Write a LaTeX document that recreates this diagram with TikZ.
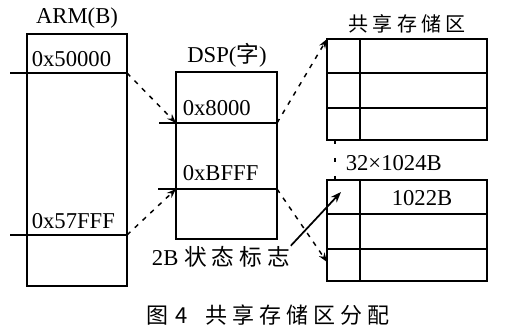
\documentclass[tikz,border=0pt]{standalone}
\usepackage{fontspec}
\setmainfont{Liberation Serif}
\newfontfamily\cjk{Noto Sans CJK SC}
\usepackage{tikz}
\usetikzlibrary{positioning, arrows.meta, calc}

\begin{document}
\begin{tikzpicture}[x=0.75pt, y=-0.75pt, line width=1.2pt,
  font=\fontsize{17}{19}\selectfont,
  lbl/.style={inner sep=0pt},
  zh/.style={inner sep=0pt, font=\fontsize{15}{17}\selectfont\cjk},
  ptr/.style={-{Stealth[length=7pt,width=5pt]}, line width=1.1pt, dash pattern=on 3.5pt off 4.5pt},
  tag/.style={-{Stealth[length=8pt,width=6pt]}, line width=1.3pt}]
\useasboundingbox (0,0) rectangle (506,331);

% ARM side
\node[lbl] (armT) at (77,18) {ARM(B)};
\draw (27,34) rectangle (127,286);
\coordinate (armHi) at (127,73);
\coordinate (armLo) at (127,235);
\draw (10,73) -- (armHi);
\draw (10,235) -- (armLo);
\node[lbl, anchor=west] (armA) at (31,59) {0x50000};
\node[lbl, anchor=west] (armB) at (31,221) {0x57FFF};

% DSP side
\node[lbl] (dspT) at (227,55) {DSP({\cjk 字})};
\draw (176,72) rectangle (277,239);
\coordinate (dspHiL) at (176,123);
\coordinate (dspHiR) at (277,123);
\coordinate (dspLoL) at (176,189);
\coordinate (dspLoR) at (277,189);
\draw (159,123) -- (dspHiR);
\draw (158,189) -- (dspLoR);
\node[lbl, anchor=west] (dspA) at (182,108) {0x8000};
\node[lbl, anchor=west] (dspB) at (182,173) {0xBFFF};
\node[lbl] (flag) at (221,257) {2B {\cjk 状 态 标 志}};

% shared memory
\node[zh] (shT) at (407,24) {共 享 存 储 区};
\foreach \ytop/\nm in {39/shUp,180/shDn}
 {
  \draw (327,\ytop) rectangle ++(160,101);
  \draw (360,\ytop) -- ++(0,101);
  \draw (327,\ytop+34) -- ++(160,0);
  \draw (327,\ytop+69) -- ++(160,0);
  \coordinate (\nm) at (327,\ytop);
 }
\coordinate (shDnRow) at (327,262);
\coordinate (markTop) at (335,140);
\coordinate (markBot) at (335,180);
\draw[dash pattern=on 3pt off 10.5pt] (markTop) -- (markBot);
\node[lbl, anchor=west] (size) at (345,163) {32×1024B};
\node[lbl] (cell) at (422,198) {1022B};
\coordinate (flagTip) at (341,192);

% pointers
\draw[ptr] (armHi) -- (dspHiL);
\draw[ptr] (armLo) -- (dspLoL);
\draw[ptr] (dspHiR) -- (shUp);
\draw[ptr] (dspLoR) -- (shDnRow);
\draw[tag] (flag.north east) -- (flagTip);

\node[zh, font=\fontsize{16.5}{18}\selectfont\cjk] (cap) at (268,315) {图\hspace{5pt}4\hspace{14pt}共 享 存 储 区 分 配};
\end{tikzpicture}
\end{document}
